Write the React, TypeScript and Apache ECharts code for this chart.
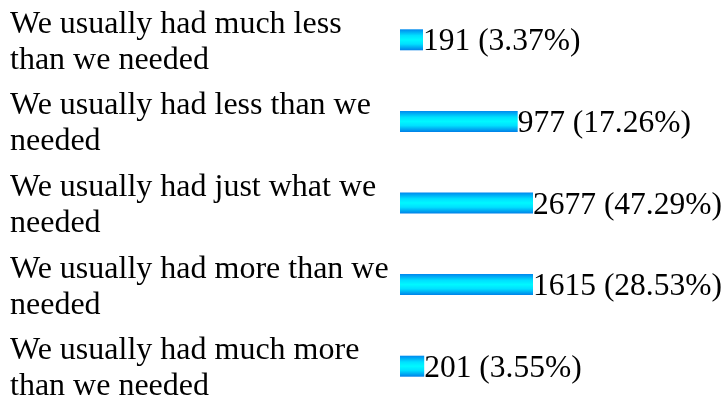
import React, { useEffect, useRef } from "react";
import * as echarts from "echarts";

const categories = [
  "We usually had much less\nthan we needed",
  "We usually had less than we\nneeded",
  "We usually had just what we\nneeded",
  "We usually had more than we\nneeded",
  "We usually had much more\nthan we needed",
];
const counts = [191, 977, 2677, 1615, 201];
const percents = ["3.37%", "17.26%", "47.29%", "28.53%", "3.55%"];

const FONT = "'Liberation Serif', 'Times New Roman', serif";

export default function App() {
  const ref = useRef<HTMLDivElement>(null);
  useEffect(() => {
    document.body.style.margin = "0";
    const chart = echarts.init(ref.current!, null, { renderer: "svg" });
    chart.setOption({
      animation: false,
      grid: {
        left: 400,
        width: 133,
        top: -1,
        height: 408,
        containLabel: false,
        outerBoundsMode: "none",
      },
      xAxis: { type: "value", min: 0, max: 1104, show: false },
      yAxis: {
        type: "category",
        inverse: true,
        data: categories.map((c, i) =>
          i === 1
            ? {
                value: c,
                textStyle: {
                  padding: [0, 0, 18, 0],
                  align: "left",
                  color: "#000",
                  fontFamily: FONT,
                  fontSize: 32,
                  lineHeight: 36,
                },
              }
            : c
        ),
        axisLine: { show: false },
        axisTick: { show: false },
        splitLine: { show: false },
        axisLabel: {
          align: "left",
          margin: 390,
          color: "#000",
          fontFamily: FONT,
          fontSize: 32,
          lineHeight: 36,
        },
      },
      series: [
        {
          type: "bar",
          data: counts,
          barWidth: 21,
          clip: true,
          itemStyle: {
            color: new echarts.graphic.LinearGradient(0, 0, 0, 1, [
              { offset: 0, color: "#0088ee" },
              { offset: 0.3, color: "#00e0ff" },
              { offset: 0.5, color: "#00f8ff" },
              { offset: 0.7, color: "#00e0ff" },
              { offset: 1, color: "#0080e8" },
            ]),
          },
          label: {
            show: true,
            position: "right",
            distance: 0,
            color: "#000",
            fontFamily: FONT,
            fontSize: 31.5,
            formatter: (p: any) => `${counts[p.dataIndex]} (${percents[p.dataIndex]})`,
          },
        },
      ],
    });
    return () => chart.dispose();
  }, []);
  return (
    <div
      ref={ref}
      style={{ position: "fixed", left: 0, top: 0, width: 726, height: 400 }}
    />
  );
}
